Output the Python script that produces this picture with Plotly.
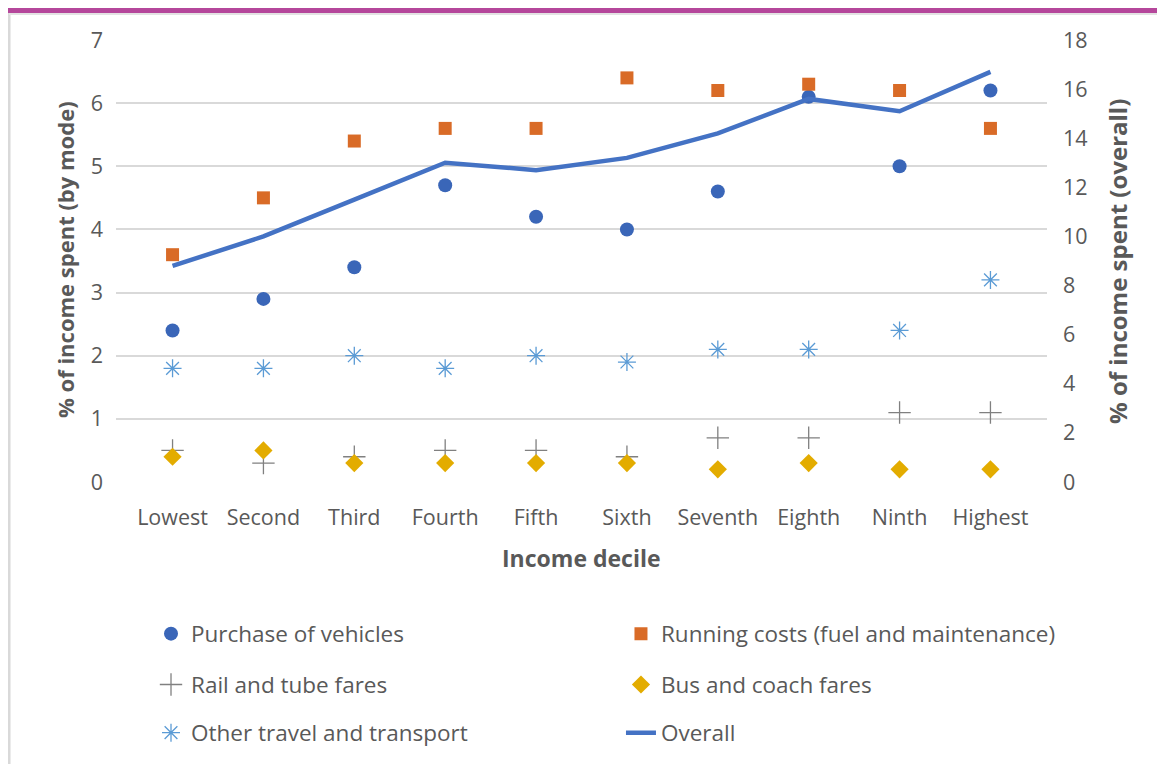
import plotly.graph_objects as go

deciles = ["Lowest", "Second", "Third", "Fourth", "Fifth",
           "Sixth", "Seventh", "Eighth", "Ninth", "Highest"]

purchase = [2.4, 2.9, 3.4, 4.7, 4.2, 4.0, 4.6, 6.1, 5.0, 6.2]
running = [3.6, 4.5, 5.4, 5.6, 5.6, 6.4, 6.2, 6.3, 6.2, 5.6]
rail = [0.5, 0.3, 0.4, 0.5, 0.5, 0.4, 0.7, 0.7, 1.1, 1.1]
bus = [0.4, 0.5, 0.3, 0.3, 0.3, 0.3, 0.2, 0.3, 0.2, 0.2]
other = [1.8, 1.8, 2.0, 1.8, 2.0, 1.9, 2.1, 2.1, 2.4, 3.2]
overall = [8.8, 10.0, 11.5, 13.0, 12.7, 13.2, 14.2, 15.6, 15.1, 16.7]

FONT = "Open Sans"
GREY = "#595959"

fig = go.Figure()

# scatter series on the left axis
fig.add_trace(go.Scatter(x=deciles, y=purchase, mode="markers", name="Purchase of vehicles",
                         marker=dict(symbol="circle", size=14, color="#3A66B8"),
                         legend="legend"))
fig.add_trace(go.Scatter(x=deciles, y=running, mode="markers",
                         name="Running costs (fuel and maintenance)",
                         marker=dict(symbol="square", size=13, color="#D96B27"),
                         legend="legend2"))
fig.add_trace(go.Scatter(x=deciles, y=rail, mode="markers", name="Rail and tube fares",
                         marker=dict(symbol="cross-thin-open", size=16, color="#808080",
                                     line=dict(width=1.3)),
                         legend="legend3"))
fig.add_trace(go.Scatter(x=deciles, y=bus, mode="markers", name="Bus and coach fares",
                         marker=dict(symbol="diamond", size=14, color="#E3AC00"),
                         legend="legend4"))
fig.add_trace(go.Scatter(x=deciles, y=other, mode="markers", name="Other travel and transport",
                         marker=dict(symbol="asterisk-open", size=15, color="#5B9BD5",
                                     line=dict(width=1.3)),
                         legend="legend5"))
# overall on the right axis
fig.add_trace(go.Scatter(x=deciles, y=overall, mode="lines", name="Overall", yaxis="y2",
                         line=dict(color="#4472C4", width=4.5),
                         legend="legend6"))

legend_common = dict(
    orientation="h", xanchor="left", yanchor="middle",
    font=dict(family=FONT, size=22.5, color=GREY),
    bgcolor="rgba(0,0,0,0)",
)
col1, col2 = 0.0376, 0.5424
row1, row2, row3 = -0.344, -0.459, -0.568

fig.update_layout(
    width=1165, height=764,
    # margins tuned so the plot area lands where the reference has it
    margin=dict(l=108, r=126, t=32, b=290, autoexpand=False),
    paper_bgcolor="white", plot_bgcolor="white",
    font=dict(family=FONT, color=GREY, size=20),
    showlegend=True,
    legend=dict(legend_common, x=col1, y=row1),
    legend2=dict(legend_common, x=col2, y=row1),
    legend3=dict(legend_common, x=col1, y=row2),
    legend4=dict(legend_common, x=col2, y=row2),
    legend5=dict(legend_common, x=col1, y=row3),
    legend6=dict(legend_common, x=col2, y=row3),
    xaxis=dict(
        type="category", showgrid=False, zeroline=False, showline=False,
        ticks="", tickfont=dict(size=21.5, color=GREY),
        ticklabelstandoff=20,
    ),
    yaxis=dict(
        range=[0, 7], dtick=1, showgrid=True, gridcolor="#D9D9D9", gridwidth=2,
        zeroline=False, showline=False, ticks="",
        tickfont=dict(size=21.5, color=GREY), ticklabelstandoff=12,
    ),
    yaxis2=dict(
        range=[0, 18], dtick=2, overlaying="y", side="right", showgrid=False,
        zeroline=False, showline=False, ticks="",
        tickfont=dict(size=21.5, color=GREY), ticklabelstandoff=15,
    ),
    annotations=[
        dict(text="<b>Income decile</b>", xref="paper", yref="paper", x=0.5005, y=-0.172,
             xanchor="center", yanchor="middle", showarrow=False,
             font=dict(size=23, color=GREY)),
        dict(text="<b>% of income spent (by mode)</b>", xref="paper", yref="paper",
             x=-0.0548, y=0.5045, xanchor="center", yanchor="middle",
             textangle=-90, showarrow=False, font=dict(size=22, color=GREY)),
        dict(text="<b>% of income spent (overall)</b>", xref="paper", yref="paper",
             x=1.0763, y=0.498, xanchor="center", yanchor="middle",
             textangle=-90, showarrow=False, font=dict(size=24, color=GREY)),
    ],
    shapes=[
        # purple band at the top of the frame
        dict(type="rect", xref="paper", yref="paper",
             x0=-0.1160, x1=1.135, y0=1.0611, y1=1.0724,
             fillcolor="#B5479B", line=dict(width=0), layer="below"),
        # light grey frame lines
        dict(type="line", xref="paper", yref="paper",
             x0=-0.1149, x1=-0.1149, y0=1.0611, y1=-0.70,
             line=dict(color="#D9D9D9", width=3)),
        dict(type="line", xref="paper", yref="paper",
             x0=-0.1149, x1=1.135, y0=1.0588, y1=1.0588,
             line=dict(color="#E3E3E3", width=2)),
    ],
)

fig.write_html("out.html")
